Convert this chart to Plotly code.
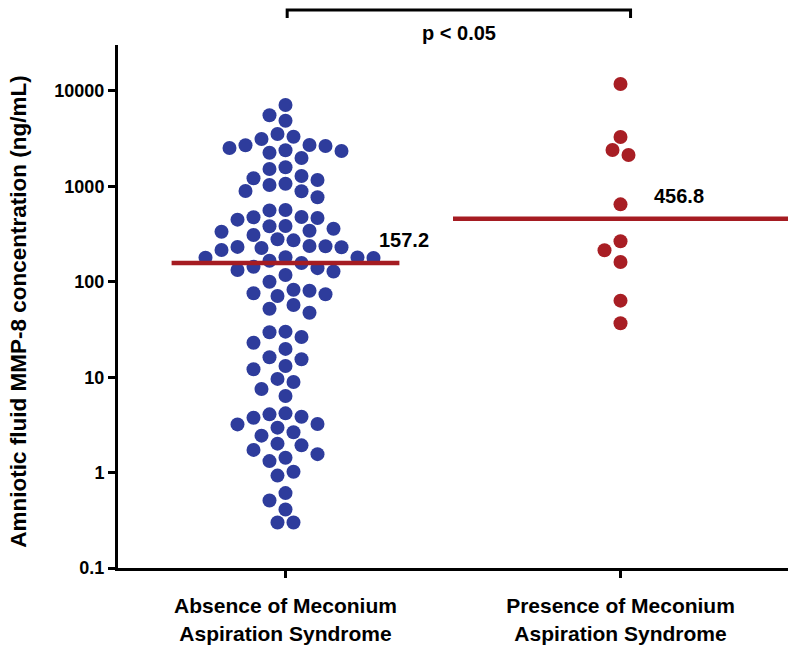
import numpy as np
import plotly.graph_objects as go

# ---------------- data ----------------
categories = ["Absence of Meconium<br>Aspiration Syndrome",
              "Presence of Meconium<br>Aspiration Syndrome"]

absence_values = [7130, 4883, 5564, 3319, 3140, 3542, 2697, 2527, 2350, 1985,
                  2255, 2390, 2652, 2716, 1522, 1586, 1067, 1216, 1167, 1285,
                  1034, 895, 769, 889, 566, 560, 478, 467, 448, 474,
                  382, 343, 309, 272, 279, 335, 360, 384, 236, 230,
                  215, 226, 232, 237, 179, 166, 181, 157.2, 178, 180,
                  144, 133, 118, 128, 139, 100, 80.7, 74.0, 71.0, 75.8,
                  82.6, 57.1, 47.4, 52.2, 26.4, 30.0, 29.6, 23.0, 19.8, 16.2,
                  15.4, 13.1, 12.1, 8.9, 9.6, 6.35, 7.52, 4.18, 3.85, 3.76,
                  4.08, 3.23, 2.96, 3.2, 2.44, 2.65, 1.93, 2.01, 1.56, 1.32,
                  1.43, 1.73, 0.93, 1.02, 0.61, 0.51, 0.41, 0.30, 0.30]

presence_values = [11840, 3296, 2410, 2133, 648, 265.6, 214, 161, 63.4, 36.7]

y_tick_values = [0.1, 1, 10, 100, 1000, 10000]
y_tick_labels = ["0.1", "1", "10", "100", "1000", "10000"]

p_text = "p < 0.05"
y_title = "Amniotic fluid MMP-8 concentration (ng/mL)"

# ---------------- layout constants ----------------
W, H = 800, 652
ML, MR, MT, MB = 118, 12, 45, 84
XR = [-0.5, 1.5]
YR = [-1, 4.482]
plot_w = W - ML - MR
plot_h = H - MT - MB
px_per_unit = plot_w / (XR[1] - XR[0])
px_per_decade = plot_h / (YR[1] - YR[0])

FONT = "Arial, Liberation Sans, Helvetica, sans-serif"
BLUE = "#2E3C9C"
RED_DOT = "#A81E24"
RED_LINE = "#A51C22"


def beeswarm(values, diam=15.0, step=8.0):
    """Greedy beeswarm layout in pixel space; returns x offsets in axis units."""
    ypix = np.log10(np.asarray(values, dtype=float)) * px_per_decade
    order = np.argsort(-ypix, kind="stable")
    cands = [0.0] + [s * j * step for j in range(1, 60) for s in (-1, 1)]
    placed = []
    offs = np.zeros(len(values))
    for i in order:
        y = ypix[i]
        chosen = cands[-1]
        for c in cands:
            if all((c - px) ** 2 + (y - py) ** 2 >= diam ** 2 for px, py in placed):
                chosen = c
                break
        placed.append((chosen, y))
        offs[i] = chosen / px_per_unit
    return offs


groups = [absence_values, presence_values]
colors = [BLUE, RED_DOT]
line_half = [0.34, 0.5]
label_dx = [0.274, 0.095]

fig = go.Figure()
shapes = []
annotations = []
for gi, vals in enumerate(groups):
    offs = beeswarm(vals)
    fig.add_trace(go.Scatter(
        x=gi + offs, y=vals, mode="markers",
        marker=dict(size=14, color=colors[gi], line=dict(width=0)),
        showlegend=False, hoverinfo="y"))
    med = float(np.median(vals))
    shapes.append(dict(type="line", xref="x", yref="y",
                       x0=gi - line_half[gi], x1=gi + line_half[gi],
                       y0=med, y1=med, line=dict(color=RED_LINE, width=4.5),
                       layer="above"))
    annotations.append(dict(x=gi + label_dx[gi], y=np.log10(med), xref="x", yref="y",
                            text=f"{med:.1f}", showarrow=False, xanchor="left",
                            yanchor="middle", yshift=23,
                            font=dict(family=FONT, size=20, color="black", weight="bold")))

# significance bracket
y_top = 1 + 35 / plot_h
y_end = 1 + 27 / plot_h
xa, xb = 0.005, 1.03
shapes.append(dict(type="path", xref="x", yref="paper",
                   path=f"M {xa},{y_end} L {xa},{y_top} L {xb},{y_top} L {xb},{y_end}",
                   line=dict(color="black", width=3)))
annotations.append(dict(x=(xa + xb) / 2, y=1 + 12 / plot_h, xref="x", yref="paper",
                        text=p_text, showarrow=False, xanchor="center", yanchor="middle",
                        font=dict(family=FONT, size=20, color="black", weight="bold")))

# y-axis title
annotations.append(dict(x=0, y=0.49, xref="paper", yref="paper", xshift=-99,
                        text=y_title, textangle=-90, showarrow=False,
                        xanchor="center", yanchor="middle",
                        font=dict(family=FONT, size=22.5, color="black", weight="bold")))

fig.update_layout(
    width=W, height=H,
    margin=dict(l=ML, r=MR, t=MT, b=MB, autoexpand=False),
    paper_bgcolor="white", plot_bgcolor="white",
    shapes=shapes, annotations=annotations,
    xaxis=dict(range=XR, tickvals=[0, 1], ticktext=categories, automargin=False,
               showgrid=False, zeroline=False, showline=True, linecolor="black",
               linewidth=3, ticks="outside", ticklen=7, tickwidth=3, tickcolor="black",
               tickfont=dict(family=FONT, size=21, color="black", weight="bold"),
               ticklabelstandoff=10),
    yaxis=dict(type="log", range=YR, tickvals=y_tick_values, ticktext=y_tick_labels,
               automargin=False,
               showgrid=False, zeroline=False, showline=True, linecolor="black",
               linewidth=3, ticks="outside", ticklen=7, tickwidth=3, tickcolor="black",
               tickfont=dict(family=FONT, size=18, color="black", weight="bold")),
)

fig.write_html("out.html", config={"displayModeBar": False},
               post_script="document.body.style.margin='0px';document.body.style.padding='0px';")
